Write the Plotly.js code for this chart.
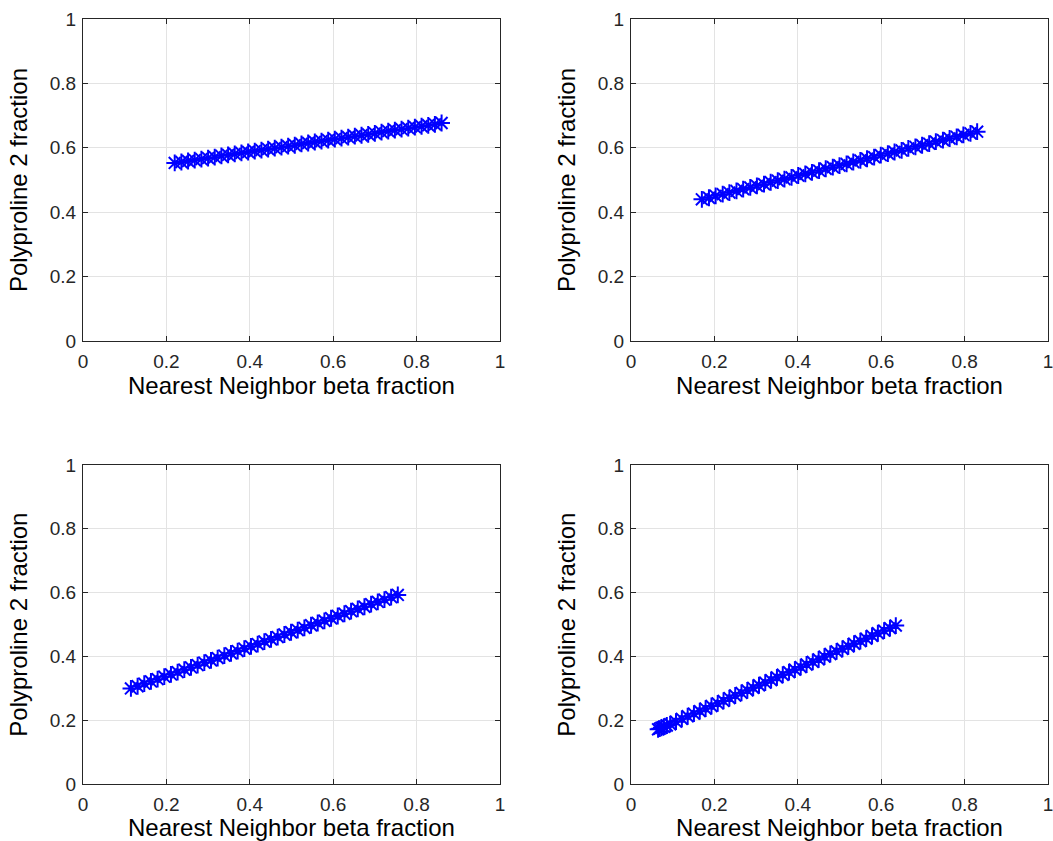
<!DOCTYPE html>
<html><head><meta charset="utf-8">
<script src="https://cdn.plot.ly/plotly-3.0.1.min.js"></script>
<style>html,body{margin:0;padding:0;background:#fff}#chart{width:1053px;height:841px}</style>
</head><body><div id="chart"></div>
<script>
const x1 = [0.220,0.236,0.252,0.268,0.284,0.300,0.316,0.332,0.348,0.364,0.380,0.396,0.412,0.428,0.444,0.460,0.476,0.492,0.508,0.524,0.540,0.556,0.572,0.588,0.604,0.620,0.636,0.652,0.668,0.684,0.700,0.716,0.732,0.748,0.764,0.780,0.796,0.812,0.828,0.844,0.860];
const y1 = [0.553,0.556,0.559,0.562,0.565,0.568,0.571,0.575,0.578,0.581,0.584,0.587,0.590,0.593,0.596,0.599,0.602,0.605,0.608,0.612,0.615,0.618,0.621,0.624,0.627,0.630,0.633,0.636,0.639,0.642,0.645,0.649,0.652,0.655,0.658,0.661,0.664,0.667,0.670,0.673,0.677];
const x2 = [0.170,0.187,0.203,0.220,0.236,0.253,0.269,0.286,0.302,0.319,0.335,0.352,0.368,0.385,0.401,0.418,0.434,0.451,0.467,0.484,0.500,0.517,0.533,0.550,0.566,0.583,0.599,0.616,0.632,0.649,0.665,0.682,0.698,0.715,0.731,0.748,0.764,0.781,0.797,0.814,0.830];
const y2 = [0.440,0.445,0.451,0.456,0.461,0.466,0.472,0.477,0.482,0.487,0.493,0.498,0.503,0.508,0.514,0.519,0.524,0.529,0.535,0.540,0.545,0.550,0.556,0.561,0.566,0.571,0.577,0.582,0.587,0.592,0.598,0.603,0.608,0.613,0.619,0.624,0.629,0.634,0.640,0.645,0.650];
const x3 = [0.115,0.131,0.147,0.163,0.179,0.195,0.211,0.227,0.243,0.259,0.275,0.291,0.307,0.323,0.339,0.355,0.371,0.387,0.403,0.419,0.435,0.451,0.467,0.483,0.499,0.515,0.531,0.547,0.563,0.579,0.595,0.611,0.627,0.643,0.659,0.675,0.691,0.707,0.723,0.739,0.755];
const y3 = [0.300,0.307,0.315,0.322,0.329,0.337,0.344,0.351,0.359,0.366,0.373,0.381,0.388,0.395,0.403,0.410,0.417,0.425,0.432,0.439,0.447,0.454,0.461,0.469,0.476,0.483,0.490,0.498,0.505,0.512,0.520,0.527,0.534,0.542,0.549,0.556,0.564,0.571,0.578,0.586,0.593];
const x4 = [0.065,0.069,0.073,0.079,0.086,0.094,0.108,0.122,0.136,0.151,0.165,0.179,0.193,0.208,0.222,0.236,0.250,0.265,0.279,0.293,0.307,0.322,0.336,0.350,0.364,0.379,0.393,0.407,0.421,0.436,0.450,0.464,0.478,0.493,0.507,0.521,0.535,0.550,0.564,0.578,0.592,0.607,0.621,0.635];
const y4 = [0.172,0.174,0.177,0.180,0.184,0.188,0.196,0.205,0.213,0.221,0.229,0.237,0.245,0.253,0.261,0.270,0.278,0.286,0.294,0.302,0.310,0.318,0.326,0.335,0.343,0.351,0.359,0.367,0.375,0.383,0.391,0.400,0.408,0.416,0.424,0.432,0.440,0.448,0.456,0.465,0.473,0.481,0.489,0.497];
const tickVals = [0,0.2,0.4,0.6,0.8,1];
const tickText = ['0','0.2','0.4','0.6','0.8','1'];
const xTitle = 'Nearest Neighbor beta fraction';
const yTitle = 'Polyproline 2 fraction';

const series = [[x1,y1],[x2,y2],[x3,y3],[x4,y4]];
const font = 'Liberation Sans, Arial, Helvetica, sans-serif';
const traces = series.map((s,i)=>({
  x:s[0], y:s[1], type:'scatter', mode:'markers',
  xaxis: i===0?'x':'x'+(i+1), yaxis: i===0?'y':'y'+(i+1),
  marker:{symbol:'asterisk-open', size:14, color:'#0000ff', line:{color:'#0000ff', width:2}},
  showlegend:false, hoverinfo:'skip'
}));
function ax(domain, title, anchor, isX){
  return {domain:domain, range:[0,1], tickvals:tickVals, ticktext:tickText,
    showline:true, mirror:'ticks', linecolor:'#262626', linewidth:1,
    ticks:'inside', ticklen:5, tickcolor:'#262626',
    showgrid:true, gridcolor:'#e3e3e3', gridwidth:1, zeroline:false,
    tickfont:{family:font, size:19, color:'#262626'},
    ticklabelstandoff: isX?3:2, ticklabeloverflow:'allow',
    title:{text:title, font:{family:font, size:24, color:'#000'}, standoff: isX?1:15},
    anchor:anchor, fixedrange:true};
}
const xdL=[0.0788,0.4748], xdR=[0.5992,0.9953];
const ydT=[0.5945,0.9774], ydB=[0.0675,0.4471];
const layout = {
  width:1053, height:841, margin:{l:0,r:0,t:0,b:0},
  paper_bgcolor:'#fff', plot_bgcolor:'#fff',
  xaxis: ax(xdL,xTitle,'y',true), yaxis: ax(ydT,yTitle,'x',false),
  xaxis2: ax(xdR,xTitle,'y2',true), yaxis2: ax(ydT,yTitle,'x2',false),
  xaxis3: ax(xdL,xTitle,'y3',true), yaxis3: ax(ydB,yTitle,'x3',false),
  xaxis4: ax(xdR,xTitle,'y4',true), yaxis4: ax(ydB,yTitle,'x4',false)
};
Plotly.newPlot('chart', traces, layout, {staticPlot:true, displayModeBar:false});
</script></body></html>
